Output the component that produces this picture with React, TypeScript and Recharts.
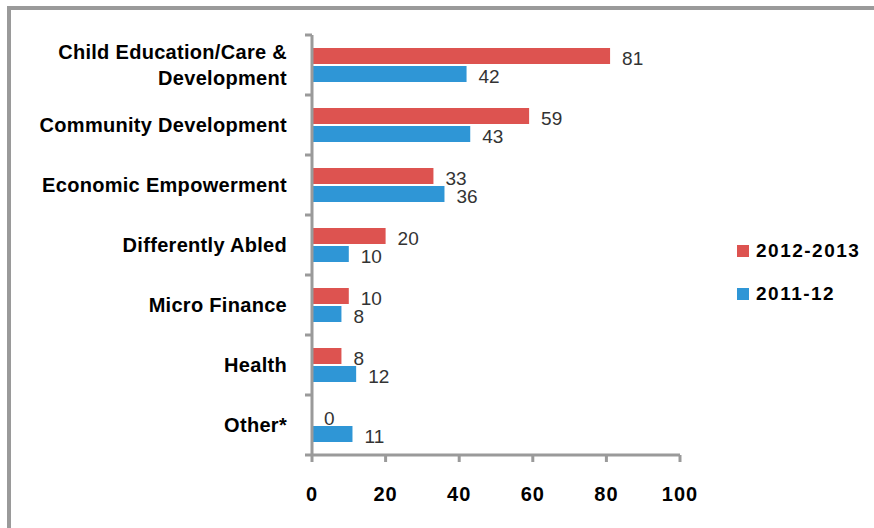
import { Bar, BarChart, LabelList, XAxis, YAxis } from 'recharts';

const CATEGORIES = [
  'Child Education/Care & Development',
  'Community Development',
  'Economic Empowerment',
  'Differently Abled',
  'Micro Finance',
  'Health',
  'Other*',
];
const Y2012_13 = [81, 59, 33, 20, 10, 8, 0];
const Y2011_12 = [42, 43, 36, 10, 8, 12, 11];
const X_TICKS = [0, 20, 40, 60, 80, 100];

const SERIES = [
  { key: 'y2012', name: '2012-2013', color: '#dd5350' },
  { key: 'y2011', name: '2011-12', color: '#2f96d6' },
];

const data = CATEGORIES.map((name, i) => ({
  name,
  y2012: Y2012_13[i],
  y2011: Y2011_12[i],
}));

const FONT = '"Liberation Sans", Arial, sans-serif';
const AXIS_GREY = '#9a9a9a';
const TICK_MARGIN = 18;
const TICK_SIZE = 7;
const BAND = 60;

function wrap(text: string, max: number) {
  const words = text.split(' ');
  const lines: string[] = [];
  let cur = '';
  for (const w of words) {
    const next = cur ? cur + ' ' + w : w;
    if (next.length > max && cur) {
      lines.push(cur);
      cur = w;
    } else cur = next;
  }
  if (cur) lines.push(cur);
  return lines;
}

function CategoryTick(props: any) {
  const { x, y, payload, index } = props;
  const axisX = x + TICK_MARGIN + TICK_SIZE;
  const lines = wrap(payload.value, 24);
  const lh = 26;
  const start = y - ((lines.length - 1) * lh) / 2;
  return (
    <g>
      <line x1={axisX - TICK_SIZE} x2={axisX} y1={y - BAND / 2} y2={y - BAND / 2} stroke={AXIS_GREY} strokeWidth={3} />
      {index === CATEGORIES.length - 1 && (
        <line x1={axisX - TICK_SIZE} x2={axisX} y1={y + BAND / 2} y2={y + BAND / 2} stroke={AXIS_GREY} strokeWidth={3} />
      )}
      <text
        textAnchor="end"
        fontFamily={FONT}
        fontWeight="bold"
        fontSize={20}
        letterSpacing={0.3}
        fill="#000"
      >
        {lines.map((l, i) => (
          <tspan key={i} x={x} y={start + i * lh} dy="0.35em">
            {l}
          </tspan>
        ))}
      </text>
    </g>
  );
}

function ValueLabel(props: any) {
  const { x, y, width, height, value } = props;
  if (value == null) return null;
  return (
    <text
      x={x + width + 12}
      y={y + height / 2 + 2}
      dy="0.35em"
      fontFamily={FONT}
      fontSize={19}
      fill="#333"
    >
      {value}
    </text>
  );
}

export default function App() {
  return (
    <div style={{ position: 'absolute', left: 0, top: 0, width: 874, height: 528, background: '#fff' }}>
      <div
        style={{
          position: 'absolute',
          left: 7,
          top: 6,
          width: 874,
          height: 528,
          borderLeft: `4px solid ${AXIS_GREY}`,
          borderTop: `4px solid ${AXIS_GREY}`,
        }}
      />
      <div style={{ position: 'absolute', left: 0, top: 0 }}>
        <BarChart
          layout="vertical"
          width={874}
          height={528}
          data={data}
          margin={{ top: 35, right: 194, bottom: 0, left: 0 }}
          barSize={16}
          barGap={2}
        >
          <XAxis
            type="number"
            domain={[0, 100]}
            ticks={X_TICKS}
            height={73}
            axisLine={{ stroke: AXIS_GREY, strokeWidth: 3 }}
            tickLine={{ stroke: AXIS_GREY, strokeWidth: 3 }}
            tickSize={TICK_SIZE}
            tickMargin={25}
            tick={{ fontFamily: FONT, fontWeight: 'bold', fontSize: 20, letterSpacing: 1, fill: '#000' }}
          />
          <YAxis
            type="category"
            dataKey="name"
            width={312}
            axisLine={{ stroke: AXIS_GREY, strokeWidth: 3 }}
            tickLine={false}
            tickSize={TICK_SIZE}
            tickMargin={TICK_MARGIN}
            tick={<CategoryTick />}
            interval={0}
          />
          {SERIES.map((s) => (
            <Bar
              key={s.key}
              dataKey={s.key}
              name={s.name}
              fill={s.color}
              minPointSize={0.01}
              isAnimationActive={false}
            >
              <LabelList dataKey={s.key} content={<ValueLabel />} />
            </Bar>
          ))}
        </BarChart>
      </div>
      <div style={{ position: 'absolute', left: 737, top: 240, fontFamily: FONT }}>
        {SERIES.map((s) => (
          <div key={s.key} style={{ display: 'flex', alignItems: 'center', height: 22, marginBottom: 21 }}>
            <span style={{ width: 12, height: 12, background: s.color, marginRight: 7 }} />
            <span style={{ fontWeight: 'bold', fontSize: 19, letterSpacing: 1.5, color: '#000' }}>{s.name}</span>
          </div>
        ))}
      </div>
    </div>
  );
}
